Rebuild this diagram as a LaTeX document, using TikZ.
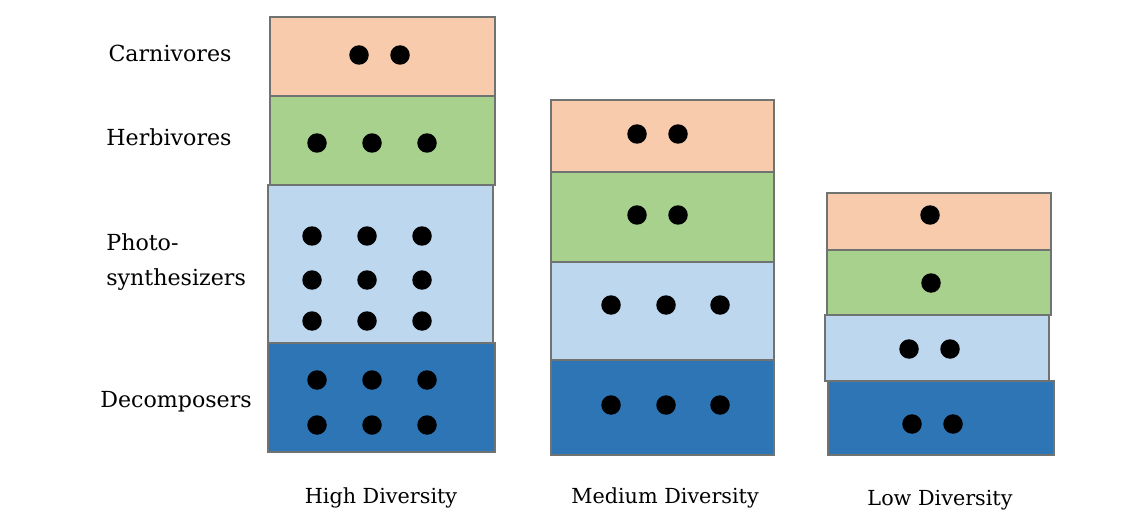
\documentclass[tikz,border=0pt]{standalone}
\usepackage{fontspec}
\setmainfont{DejaVu Serif}
\definecolor{carn}{HTML}{F8CBAD}
\definecolor{herb}{HTML}{A9D18E}
\definecolor{photo}{HTML}{BDD7EE}
\definecolor{decomp}{HTML}{2E75B6}
\definecolor{edge}{HTML}{6F7372}
\tikzset{
  layer/.style={draw=edge, line width=0.6pt},
  dot/.style={fill=black},
  lab/.style={font=\fontsize{12.6}{19.8}\selectfont, text=black, inner sep=0pt},
  bot/.style={font=\fontsize{11.8}{14}\selectfont, text=black, inner sep=0pt}
}
\newcommand{\mydot}[2]{\fill[dot] (#1,#2) circle[radius=0.195cm];}
\begin{document}
\begin{tikzpicture}[x=0.02cm,y=-0.02cm]
\useasboundingbox[fill=white] (0,0) rectangle (1138,513);
% High diversity
\draw[layer, fill=carn] (270,17) rectangle (495,96);
\draw[layer, fill=herb] (270,96) rectangle (495,185);
\draw[layer, fill=photo] (268,185) rectangle (493,343);
\draw[layer, fill=decomp] (268,343) rectangle (495,452);
\mydot{359}{55}\mydot{400}{55}
\mydot{317}{143}\mydot{372}{143}\mydot{427}{143}
\foreach \yy in {236,280,321}{\foreach \xx in {312,367,422}{\mydot{\xx}{\yy}}}
\foreach \yy in {380,425}{\foreach \xx in {317,372,427}{\mydot{\xx}{\yy}}}
% Medium diversity
\draw[layer, fill=carn] (551,100) rectangle (774,172);
\draw[layer, fill=herb] (551,172) rectangle (774,262);
\draw[layer, fill=photo] (551,262) rectangle (774,360);
\draw[layer, fill=decomp] (551,360) rectangle (774,455);
\mydot{637}{134}\mydot{678}{134}
\mydot{637}{215}\mydot{678}{215}
\foreach \xx in {611,666,720}{\mydot{\xx}{305}\mydot{\xx}{405}}
% Low diversity
\draw[layer, fill=carn] (827,193) rectangle (1051,250);
\draw[layer, fill=herb] (827,250) rectangle (1051,315);
\draw[layer, fill=photo] (825,315) rectangle (1049,381);
\draw[layer, fill=decomp] (828,381) rectangle (1054,455);
\mydot{930}{215}
\mydot{931}{283}
\mydot{909}{349}\mydot{950}{349}
\mydot{912}{424}\mydot{953}{424}
% labels
\node[lab] (lc) at (170,53) {Carnivores};
\node[lab] (lh) at (169,137) {Herbivores};
\node[lab, align=left, anchor=west] (lp) at (106,262) {Photo-\\synthesizers};
\node[lab] (ld) at (176,402) {Decomposers};
\node[bot] (bh) at (381,498) {High Diversity};
\node[bot] (bm) at (665,498) {Medium Diversity};
\node[bot] (bl) at (940,500) {Low Diversity};
\end{tikzpicture}
\end{document}
